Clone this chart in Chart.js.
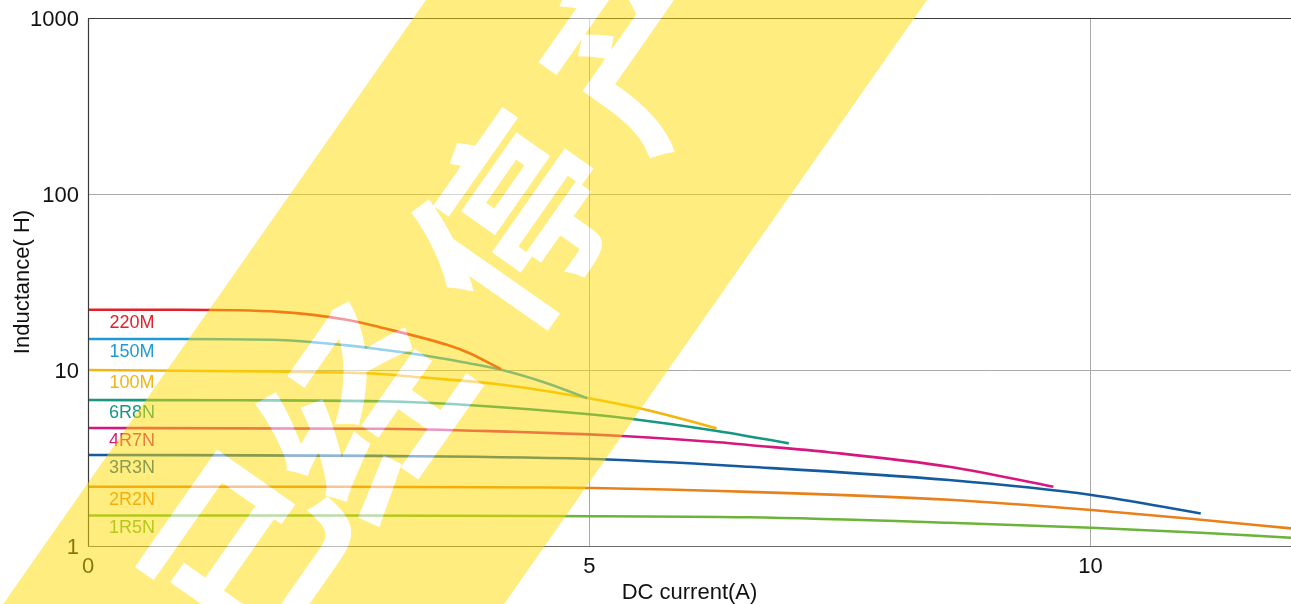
<!DOCTYPE html>
<html>
<head>
<meta charset="utf-8">
<script src="https://cdn.jsdelivr.net/npm/chart.js@4.4.0/dist/chart.umd.min.js"></script>
<style>
html,body{margin:0;padding:0;background:#fff;overflow:hidden;}
#wrap{width:1291px;height:604px;position:relative;}
</style>
</head>
<body>
<div id="wrap"><canvas id="c" width="1291" height="604"></canvas></div>
<script>
// ---- data ----
const seriesNames = ['220M','150M','100M','6R8N','4R7N','3R3N','2R2N','1R5N'];
const seriesColors = ['#e3202a','#1e9bd7','#f2b60f','#16977f','#d6177d','#135a9e','#e9811a','#6cb33a'];

const x220M = [0, 0.92, 1.91, 2.58, 2.91, 3.58, 3.80, 4.12];
const y220M = [22, 22, 21.4, 19.3, 17.5, 13.9, 12.5, 10.1];

const x150M = [0, 0.92, 1.91, 2.58, 2.91, 3.31, 3.73, 4.13, 4.57, 4.98];
const y150M = [15, 15, 14.8, 13.8, 13.1, 12.2, 11.1, 10.0, 8.44, 6.91];

const x100M = [0, 0.92, 2.0, 2.91, 3.31, 4.07, 4.97, 5.50, 5.90, 6.27];
const y100M = [10, 9.9, 9.77, 9.49, 9.09, 8.33, 6.96, 6.06, 5.32, 4.66];

const x6R8N = [0, 1.5, 2.91, 3.90, 5.0, 5.43, 6.26, 6.99];
const y6R8N = [6.75, 6.73, 6.64, 6.27, 5.6, 5.27, 4.52, 3.83];

const x4R7N = [0, 2.91, 4.23, 5.0, 5.33, 6.23, 6.59, 7.39, 8.59, 9.63];
const y4R7N = [4.68, 4.64, 4.46, 4.31, 4.22, 3.91, 3.75, 3.41, 2.82, 2.17];

const x3R3N = [0, 2.91, 5.13, 6.59, 8.59, 10.01, 11.1];
const y3R3N = [3.29, 3.25, 3.11, 2.82, 2.37, 1.95, 1.53];

const x2R2N = [0, 2.5, 4.6, 6.59, 8.59, 10.01, 11.1, 12];
const y2R2N = [2.17, 2.17, 2.15, 2.03, 1.83, 1.60, 1.41, 1.26];

const x1R5N = [0, 2.5, 4.6, 6.59, 8.59, 10.01, 11.1, 12];
const y1R5N = [1.49, 1.49, 1.48, 1.456, 1.356, 1.27, 1.19, 1.115];

const xTicks = [0, 5, 10];
const yTicks = [1, 10, 100, 1000];
const xTitle = 'DC current(A)';
const yTitle = 'Inductance( H)';
const watermarkChars = ['已', '经', '停', '产'];

// ---- build ----
const xs = [x220M, x150M, x100M, x6R8N, x4R7N, x3R3N, x2R2N, x1R5N];
const ys = [y220M, y150M, y100M, y6R8N, y4R7N, y3R3N, y2R2N, y1R5N];
const datasets = seriesNames.map((n, i) => ({
  label: n,
  data: xs[i].map((x, j) => ({x: x, y: ys[i][j]})),
  borderColor: seriesColors[i],
  backgroundColor: seriesColors[i],
  borderWidth: 2.6,
  pointRadius: 0,
  cubicInterpolationMode: 'monotone',
  fill: false
}));

const FONT = "'Liberation Sans', Arial, Helvetica, sans-serif";

const overlay = {
  id: 'overlay',
  afterDraw(chart) {
    const ctx = chart.ctx;
    const a = chart.chartArea;
    const W = chart.width, H = chart.height;
    // frame
    ctx.save();
    ctx.strokeStyle = '#3a3a3a';
    ctx.lineWidth = 1.2;
    ctx.beginPath();
    ctx.moveTo(W + 5, a.top + 0.5);
    ctx.lineTo(a.left + 0.5, a.top + 0.5);
    ctx.lineTo(a.left + 0.5, a.bottom + 0.5);
    ctx.stroke();
    ctx.strokeStyle = '#6a6a6a';
    ctx.beginPath();
    ctx.moveTo(a.left, a.bottom + 0.5);
    ctx.lineTo(W + 5, a.bottom + 0.5);
    ctx.stroke();
    // series labels
    ctx.font = '18px ' + FONT;
    ctx.textAlign = 'center';
    ctx.textBaseline = 'middle';
    const yS = chart.scales.y;
    seriesNames.forEach((n, i) => {
      ctx.fillStyle = seriesColors[i];
      ctx.fillText(n, a.left + 44, yS.getPixelForValue(ys[i][0]) + 13);
    });
    ctx.restore();

    // watermark band with text holes
    const off = document.createElement('canvas');
    off.width = W; off.height = H;
    const o = off.getContext('2d');
    o.fillStyle = 'rgb(255,220,0)';
    o.beginPath();
    o.moveTo(426, 0);
    o.lineTo(927, 0);
    o.lineTo(927 - 0.7 * H, H);
    o.lineTo(426 - 0.7 * H, H);
    o.closePath();
    o.fill();
    const ang = -55 * Math.PI / 180;
    const centers = [[245, 548], [362, 410], [514, 222], [640, 40]];
    const drawChars = (c2) => {
      c2.font = "bold 192px 'Noto Sans CJK SC', sans-serif";
      c2.textAlign = 'center';
      c2.textBaseline = 'middle';
      watermarkChars.forEach((ch, k) => {
        c2.save();
        c2.translate(centers[k][0], centers[k][1]);
        c2.rotate(ang);
        c2.fillText(ch, 0, 0);
        c2.restore();
      });
    };
    o.globalCompositeOperation = 'destination-out';
    o.fillStyle = '#000';
    drawChars(o);
    ctx.save();
    ctx.globalAlpha = 0.5;
    ctx.drawImage(off, 0, 0);
    ctx.globalAlpha = 1;
    ctx.fillStyle = 'rgba(255,255,255,0.55)';
    drawChars(ctx);
    ctx.restore();
  }
};

new Chart(document.getElementById('c'), {
  type: 'line',
  data: {datasets},
  options: {
    responsive: false,
    animation: false,
    devicePixelRatio: 1,
    layout: {padding: {top: 18, right: 0, left: 0, bottom: 0}},
    plugins: {legend: {display: false}, tooltip: {enabled: false}},
    scales: {
      x: {
        type: 'linear', min: 0, max: 12,
        afterBuildTicks: (ax) => { ax.ticks = xTicks.map(v => ({value: v})); },
        afterFit: (s) => { s.height = 58; s.paddingLeft = 0; s.paddingRight = 0; },
        border: {display: false},
        grid: {drawTicks: false, lineWidth: 1,
          color: (c) => (c.tick && c.tick.value === 0) ? 'rgba(0,0,0,0)' : '#a9a9a9'},
        ticks: {padding: 8, maxRotation: 0, color: '#111',
          font: {family: FONT, size: 22}, callback: (v) => String(v)},
        title: {display: true, text: xTitle, color: '#111',
          font: {family: FONT, size: 22, lineHeight: 1.05}, padding: {top: 0, bottom: 0}}
      },
      y: {
        type: 'logarithmic', min: 1, max: 1000,
        afterBuildTicks: (ax) => { ax.ticks = yTicks.map(v => ({value: v})); },
        afterFit: (s) => { s.width = 88; s.paddingTop = 0; s.paddingBottom = 0; },
        border: {display: false},
        grid: {drawTicks: false, lineWidth: 1,
          color: (c) => (c.tick && (c.tick.value === 1 || c.tick.value === 1000)) ? 'rgba(0,0,0,0)' : '#a9a9a9'},
        ticks: {padding: 9, labelOffset: 2, color: '#111', font: {family: FONT, size: 22},
          callback: (v) => String(v)},
        title: {display: true, text: yTitle, color: '#111',
          font: {family: FONT, size: 22}, padding: {top: 10, bottom: 0}}
      }
    }
  },
  plugins: [overlay]
});
</script>
</body>
</html>
